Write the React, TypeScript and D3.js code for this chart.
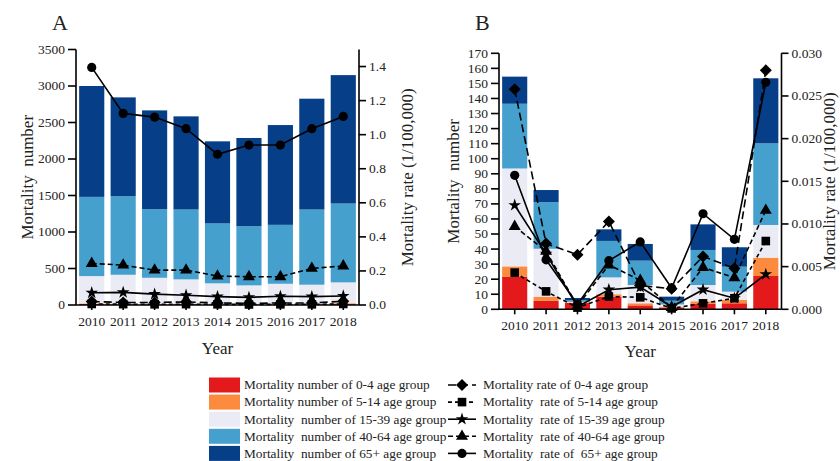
import React from 'react';
import * as d3 from 'd3';

const years = ['2010', '2011', '2012', '2013', '2014', '2015', '2016', '2017', '2018'];
const colors = ['#e3191c', '#fd8b3d', '#ebebf5', '#46a0cd', '#063f88'];
const numberLabels = [
  'Mortality number of 0-4 age group',
  'Mortality number of 5-14 age group',
  'Mortality  number of 15-39 age group',
  'Mortality  number of 40-64 age group',
  'Mortality  number of 65+ age group',
];
const rateLabels = [
  'Mortality rate of 0-4 age group',
  'Mortality  rate of 5-14 age group',
  'Mortality  rate of 15-39 age group',
  'Mortality  rate of 40-64 age group',
  'Mortality  rate of  65+ age group',
];
const markerTypes = ['diamond', 'square', 'star', 'triangle', 'circle'];
const lineDashes = ['8,4', '4,3', null, '5,3', null];

// Panel A – mortality numbers by age group
const aNum04 = [14, 10, 9, 12, 8, 6, 9, 8, 16];
const aNum514 = [8, 7, 6, 7, 6, 5, 6, 6, 9];
const aNum1539 = [374, 397, 358, 332, 283, 258, 276, 264, 285];
const aNum4064 = [1085, 1076, 939, 957, 820, 811, 807, 1030, 1080];
const aNum65 = [1519, 1354, 1354, 1276, 1125, 1208, 1367, 1518, 1759];
// Panel A – mortality rates (1/100,000)
const aRate04 = [0.02, 0.015, 0.015, 0.018, 0.012, 0.01, 0.012, 0.012, 0.022];
const aRate514 = [0.006, 0.005, 0.004, 0.005, 0.004, 0.003, 0.004, 0.004, 0.006];
const aRate1539 = [0.072, 0.074, 0.064, 0.057, 0.049, 0.045, 0.051, 0.049, 0.053];
const aRate4064 = [0.244, 0.234, 0.205, 0.205, 0.17, 0.166, 0.166, 0.215, 0.229];
const aRate65 = [1.395, 1.125, 1.103, 1.035, 0.885, 0.939, 0.939, 1.035, 1.107];
const aLeftTicks = [0, 500, 1000, 1500, 2000, 2500, 3000, 3500];
const aRightTicks = [0, 0.2, 0.4, 0.6, 0.8, 1.0, 1.2, 1.4];

// Panel B – mortality numbers by age group
const bNum04 = [21.5, 5.7, 4.3, 8.4, 2.6, 1.2, 3.8, 4, 22.1];
const bNum514 = [7, 2.7, 0.2, 1.6, 1.4, 0.5, 1.5, 2.2, 12.2];
const bNum1539 = [65, 31.8, 0.5, 11.2, 12.1, 1.5, 10.8, 5.5, 21.7];
const bNum4064 = [43, 31, 1, 24.2, 16.2, 2.5, 23.3, 16.6, 54.2];
const bNum65 = [18, 8, 1.5, 7.7, 11.1, 2.7, 17, 12.9, 43.2];
// Panel B – mortality rates (1/100,000)
const bRate04 = [0.0258, 0.0077, 0.0064, 0.0103, 0.0028, 0.0024, 0.0062, 0.0048, 0.028];
const bRate514 = [0.0043, 0.0021, 0.0002, 0.0015, 0.0014, 0.0001, 0.0007, 0.0013, 0.008];
const bRate1539 = [0.0122, 0.0065, 0.0003, 0.0023, 0.0026, 0.0003, 0.0023, 0.0013, 0.0041];
const bRate4064 = [0.0097, 0.0068, 0.0004, 0.0052, 0.0034, 0.0002, 0.0049, 0.0037, 0.0116];
const bRate65 = [0.0157, 0.0058, 0.0006, 0.0057, 0.0079, 0.0025, 0.0112, 0.0082, 0.0266];
const bLeftTicks = [0, 10, 20, 30, 40, 50, 60, 70, 80, 90, 100, 110, 120, 130, 140, 150, 160, 170];
const bRightTicks = [0, 0.005, 0.01, 0.015, 0.02, 0.025, 0.03];

const FONT = "'Liberation Serif', 'Times New Roman', serif";
const keys = ['g0', 'g1', 'g2', 'g3', 'g4'];

function Marker({ type, x, y }: { type: string; x: number; y: number }) {
  if (type === 'circle') return <circle cx={x} cy={y} r={4.6} fill="#000" />;
  if (type === 'square') return <rect x={x - 4.3} y={y - 4.3} width={8.6} height={8.6} fill="#000" />;
  if (type === 'diamond')
    return <path d={`M${x},${y - 6}L${x + 6},${y}L${x},${y + 6}L${x - 6},${y}Z`} fill="#000" />;
  if (type === 'star')
    return <path d={d3.symbol(d3.symbolStar, 50)() as string} transform={`translate(${x},${y})`} fill="#000" />;
  return <path d={d3.symbol(d3.symbolTriangle, 62)() as string} transform={`translate(${x},${y})`} fill="#000" />;
}

type PanelProps = {
  x0: number; x1: number; yTop: number; yBot: number;
  leftMax: number; leftTicks: number[]; rightMax: number; rightTicks: number[]; rightDigits: number;
  nums: number[][]; rates: number[][];
  label: string; leftTitleX: number; rightTitleX: number; yearY: number;
};

function Panel(p: PanelProps) {
  const x = d3.scaleBand().domain(years).range([p.x0, p.x1]).paddingInner(0.2).paddingOuter(0.1);
  const yL = d3.scaleLinear().domain([0, p.leftMax]).range([p.yBot, p.yTop]);
  const yR = d3.scaleLinear().domain([0, p.rightMax]).range([p.yBot, p.yTop]);
  const table = years.map((yr, i) => {
    const row: any = { year: yr };
    keys.forEach((k, j) => (row[k] = p.nums[j][i]));
    return row;
  });
  const series = d3.stack().keys(keys)(table);
  const cx = (yr: string) => (x(yr) as number) + x.bandwidth() / 2;
  const midY = (p.yTop + p.yBot) / 2;
  return (
    <g fontFamily={FONT}>
      {series.map((s, j) => (
        <g key={j} fill={colors[j]}>
          {s.map((d, i) => (
            <rect key={i} x={x(years[i])} width={x.bandwidth()} y={yL(d[1])} height={Math.max(0, yL(d[0]) - yL(d[1]))} />
          ))}
        </g>
      ))}
      {p.rates.map((r, j) => {
        const line = d3.line<number>().x((_, i) => cx(years[i])).y((v) => yR(v));
        return (
          <g key={j}>
            <path d={line(r) as string} fill="none" stroke="#000" strokeWidth={1.6} strokeDasharray={lineDashes[j] || undefined} />
            {r.map((v, i) => (
              <Marker key={i} type={markerTypes[j]} x={cx(years[i])} y={yR(v)} />
            ))}
          </g>
        );
      })}
      {/* axes */}
      <g stroke="#000" strokeWidth={1.6} fill="none">
        <line x1={p.x0} x2={p.x0} y1={p.yTop} y2={p.yBot} />
        <line x1={p.x1} x2={p.x1} y1={p.yTop} y2={p.yBot} />
        <line x1={p.x0} x2={p.x1} y1={p.yBot} y2={p.yBot} />
        {p.leftTicks.map((t) => (
          <line key={'l' + t} x1={p.x0 - 8} x2={p.x0} y1={yL(t)} y2={yL(t)} />
        ))}
        {p.rightTicks.map((t) => (
          <line key={'r' + t} x1={p.x1} x2={p.x1 + 7} y1={yR(t)} y2={yR(t)} />
        ))}
        {years.map((yr) => (
          <line key={'x' + yr} x1={cx(yr)} x2={cx(yr)} y1={p.yBot} y2={p.yBot + 5} />
        ))}
      </g>
      <g fontSize={13.5} fill="#222">
        {p.leftTicks.map((t) => (
          <text key={'lt' + t} x={p.x0 - 11} y={yL(t)} dy="0.33em" textAnchor="end">{t}</text>
        ))}
        {p.rightTicks.map((t) => (
          <text key={'rt' + t} x={p.x1 + 10} y={yR(t)} dy="0.33em" textAnchor="start">{t.toFixed(p.rightDigits)}</text>
        ))}
        {years.map((yr) => (
          <text key={'xt' + yr} x={cx(yr)} y={p.yBot + 21} textAnchor="middle">{yr}</text>
        ))}
      </g>
      <text x={p.x0 - 24} y={30} fontSize={22} fill="#222">{p.label}</text>
      <text transform={`translate(${p.leftTitleX},${midY}) rotate(-90)`} textAnchor="middle" fontSize={17} fill="#222" style={{ whiteSpace: 'pre' }}>Mortality  number</text>
      <text transform={`translate(${p.rightTitleX},${midY}) rotate(-90)`} textAnchor="middle" fontSize={17} fill="#222">Mortality rate (1/100,000)</text>
      <text x={(p.x0 + p.x1) / 2} y={p.yearY} textAnchor="middle" fontSize={17} fill="#222">Year</text>
    </g>
  );
}

function Legend() {
  const rows = [0, 1, 2, 3, 4];
  return (
    <g fontFamily={FONT} fontSize={13.3} fill="#222">
      {rows.map((i) => {
        const yc = 385 + i * 17.1;
        return (
          <g key={i}>
            <rect x={209} y={yc - 7.5} width={31} height={15} fill={colors[i]} />
            <text x={244} y={yc} dy="0.33em" style={{ whiteSpace: 'pre' }}>{numberLabels[i]}</text>
            <line x1={448} x2={476} y1={yc} y2={yc} stroke="#000" strokeWidth={1.6} strokeDasharray={lineDashes[i] || undefined} />
            <Marker type={markerTypes[i]} x={462} y={yc} />
            <text x={483} y={yc} dy="0.33em" style={{ whiteSpace: 'pre' }}>{rateLabels[i]}</text>
          </g>
        );
      })}
    </g>
  );
}

export default function App() {
  return (
    <svg width={840} height={461} style={{ position: 'absolute', left: 0, top: 0, background: '#fff' }}>
      <Panel
        x0={76} x1={359} yTop={49.5} yBot={305}
        leftMax={3500} leftTicks={aLeftTicks} rightMax={1.5} rightTicks={aRightTicks} rightDigits={1}
        nums={[aNum04, aNum514, aNum1539, aNum4064, aNum65]}
        rates={[aRate04, aRate514, aRate1539, aRate4064, aRate65]}
        label="A" leftTitleX={33} rightTitleX={413} yearY={354}
      />
      <Panel
        x0={499} x1={781.5} yTop={53.3} yBot={309.3}
        leftMax={170} leftTicks={bLeftTicks} rightMax={0.03} rightTicks={bRightTicks} rightDigits={3}
        nums={[bNum04, bNum514, bNum1539, bNum4064, bNum65]}
        rates={[bRate04, bRate514, bRate1539, bRate4064, bRate65]}
        label="B" leftTitleX={459} rightTitleX={835} yearY={357}
      />
      <Legend />
    </svg>
  );
}
